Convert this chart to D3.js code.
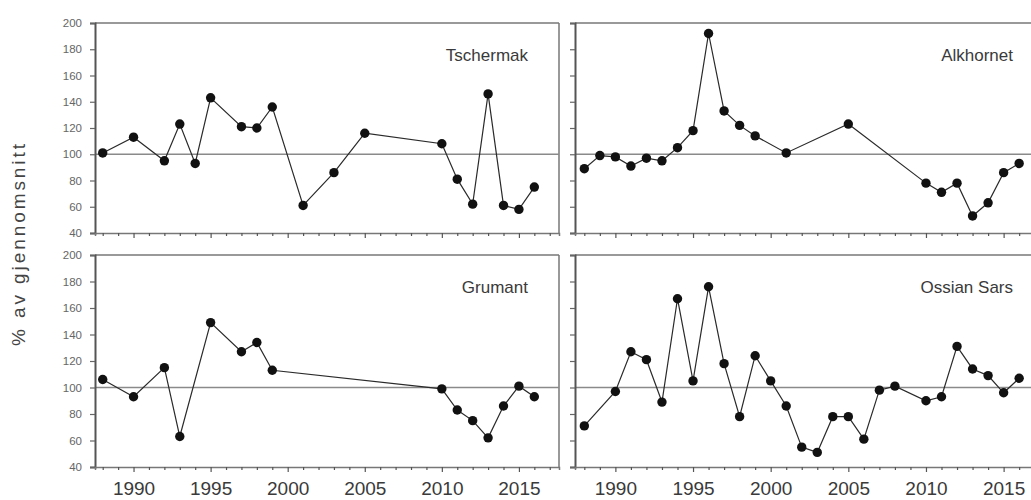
<!DOCTYPE html>
<html><head><meta charset="utf-8">
<script src="https://cdn.jsdelivr.net/npm/d3@7"></script>
<style>
html,body{margin:0;padding:0;background:#fff;}
svg{display:block;font-family:"Liberation Sans",Arial,sans-serif;}
</style></head>
<body><svg id="chart" width="1031" height="500"></svg>
<script>
const panelNames = ["Tschermak","Alkhornet","Grumant","Ossian Sars"];
const tschermakYears = [1988,1990,1992,1993,1994,1995,1997,1998,1999,2001,2003,2005,2010,2011,2012,2013,2014,2015,2016];
const tschermakValues = [101,113,95,123,93,143,121,120,136,61,86,116,108,81,62,146,61,58,75];
const alkhornetYears = [1988,1989,1990,1991,1992,1993,1994,1995,1996,1997,1998,1999,2001,2005,2010,2011,2012,2013,2014,2015,2016];
const alkhornetValues = [89,99,98,91,97,95,105,118,192,133,122,114,101,123,78,71,78,53,63,86,93];
const grumantYears = [1988,1990,1992,1993,1995,1997,1998,1999,2010,2011,2012,2013,2014,2015,2016];
const grumantValues = [106,93,115,63,149,127,134,113,99,83,75,62,86,101,93];
const ossianYears = [1988,1990,1991,1992,1993,1994,1995,1996,1997,1998,1999,2000,2001,2002,2003,2004,2005,2006,2007,2008,2010,2011,2012,2013,2014,2015,2016];
const ossianValues = [71,97,127,121,89,167,105,176,118,78,124,105,86,55,51,78,78,61,98,101,90,93,131,114,109,96,107];
const yTicks = [40,60,80,100,120,140,160,180,200];
const xTickLabels = [1990,1995,2000,2005,2010,2015];
const xMinorTicks = d3.range(1988, 2018);
const referenceValue = 100;
const yLabel = "% av gjennomsnitt";

const series = [
  {name: panelNames[0], years: tschermakYears, values: tschermakValues},
  {name: panelNames[1], years: alkhornetYears, values: alkhornetValues},
  {name: panelNames[2], years: grumantYears, values: grumantValues},
  {name: panelNames[3], years: ossianYears, values: ossianValues}
];

const svg = d3.select("#chart");
const layout = [
  {x0: 95, x1: 559, dom: [1987.5, 2017.6], y0: 23, y1: 233, yLabels: true, xLabels: false},
  {x0: 575, x1: 1044, dom: [1987.4, 2017.6], y0: 23, y1: 233, yLabels: false, xLabels: false},
  {x0: 95, x1: 559, dom: [1987.5, 2017.6], y0: 255, y1: 467, yLabels: true, xLabels: true},
  {x0: 575, x1: 1044, dom: [1987.4, 2017.6], y0: 255, y1: 467, yLabels: false, xLabels: true}
];

series.forEach((s, i) => {
  const L = layout[i];
  const x = d3.scaleLinear().domain(L.dom).range([L.x0, L.x1]);
  const y = d3.scaleLinear().domain([40, 200]).range([L.y1, L.y0]);
  const g = svg.append("g");

  // frame (top & right)
  g.append("line").attr("x1", L.x0).attr("x2", L.x1).attr("y1", L.y0).attr("y2", L.y0)
    .attr("stroke", "#777").attr("stroke-width", 1.5);
  g.append("line").attr("x1", L.x1).attr("x2", L.x1).attr("y1", L.y0).attr("y2", L.y1)
    .attr("stroke", "#777").attr("stroke-width", 1.5);

  // reference line
  g.append("line").attr("x1", L.x0).attr("x2", L.x1)
    .attr("y1", y(referenceValue)).attr("y2", y(referenceValue))
    .attr("stroke", "#8a8a8a").attr("stroke-width", 1.5);

  // y axis
  const ya = d3.axisLeft(y).tickValues(yTicks).tickSize(5).tickPadding(8)
    .tickFormat(L.yLabels ? d3.format("d") : () => "");
  const yg = g.append("g").attr("transform", `translate(${L.x0},0)`).call(ya);
  yg.select(".domain").attr("stroke", "#555").attr("stroke-width", 2);
  yg.selectAll(".tick line").attr("stroke", "#666").attr("stroke-width", 1.2);
  yg.selectAll(".tick text").attr("fill", "#666").attr("font-size", 11.5)
    .attr("font-family", "Liberation Sans, Arial, sans-serif");

  // x axis minor
  const xa = d3.axisBottom(x).tickValues(xMinorTicks.filter(v => !xTickLabels.includes(v)))
    .tickSize(3).tickFormat(() => "");
  const xg = g.append("g").attr("transform", `translate(0,${L.y1})`).call(xa);
  xg.select(".domain").attr("stroke", "#777").attr("stroke-width", 1.5);
  xg.selectAll(".tick line").attr("stroke", "#555").attr("stroke-width", 1.2);

  // x axis major
  const xaM = d3.axisBottom(x).tickValues(xTickLabels).tickSize(5).tickPadding(10)
    .tickFormat(L.xLabels ? d3.format("d") : () => "");
  const xgM = g.append("g").attr("transform", `translate(0,${L.y1})`).call(xaM);
  xgM.select(".domain").remove();
  xgM.selectAll(".tick line").attr("stroke", "#555").attr("stroke-width", 1.2);
  xgM.selectAll(".tick text").attr("fill", "#3a3a3a").attr("font-size", 19)
    .attr("font-family", "Liberation Sans, Arial, sans-serif");

  // line + points
  const pts = s.years.map((yr, k) => [yr, s.values[k]]);
  const line = d3.line().x(d => x(d[0])).y(d => y(d[1]));
  g.append("path").datum(pts).attr("d", line).attr("fill", "none")
    .attr("stroke", "#2a2a2a").attr("stroke-width", 1.2);
  g.selectAll("circle").data(pts).join("circle")
    .attr("cx", d => x(d[0])).attr("cy", d => y(d[1])).attr("r", 4.7)
    .attr("fill", "#111");

  // title
  g.append("text").attr("x", i % 2 === 0 ? 528 : 1013).attr("y", L.y0 + 38)
    .attr("text-anchor", "end").attr("font-size", 17).attr("fill", "#3a3a3a")
    .text(s.name);
});

svg.append("text").attr("transform", "translate(25,245) rotate(-90)")
  .attr("text-anchor", "middle").attr("font-size", 19).attr("fill", "#444")
  .attr("textLength", 202).attr("lengthAdjust", "spacing")
  .text(yLabel);
</script>
</body></html>
